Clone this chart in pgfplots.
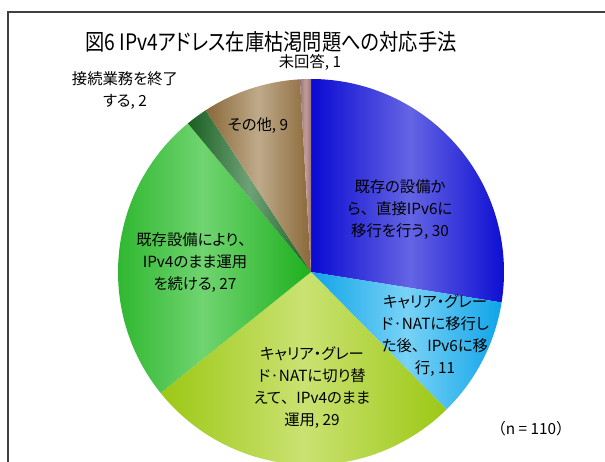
\documentclass[border=0pt]{standalone}
\usepackage{pgfplots}
\pgfplotsset{compat=1.18}
\usepackage{pgfplotstable}
\usepackage{fontspec}
\setmainfont{Noto Sans CJK JP}[RawFeature=+palt]
\newfontfamily\fw{Noto Sans CJK JP}
\newcommand\ten{{\fw 、}}

\pgfplotstableread{
value
30
11
29
27
2
9
1
}\piedata

\definecolor{dk0}{HTML}{0A0AD2}\definecolor{lt0}{HTML}{6464E4}
\definecolor{dk1}{HTML}{10A4E8}\definecolor{lt1}{HTML}{78D2F6}
\definecolor{dk2}{HTML}{9CC814}\definecolor{lt2}{HTML}{CAE272}
\definecolor{dk3}{HTML}{1EB01E}\definecolor{lt3}{HTML}{70D470}
\definecolor{dk4}{HTML}{1A5E22}\definecolor{lt4}{HTML}{6EA276}
\definecolor{dk5}{HTML}{8A6838}\definecolor{lt5}{HTML}{BEAA8A}
\definecolor{dk6}{HTML}{9A7474}\definecolor{lt6}{HTML}{C49C9C}

\gdef\total{0}%
\pgfplotstableforeachcolumnelement{value}\of\piedata\as\v{%
  \pgfmathsetmacro\tmp{\total+\v}\xdef\total{\tmp}}%
\gdef\cum{0}%
\pgfplotstableforeachcolumnelement{value}\of\piedata\as\v{%
  \pgfmathsetmacro\sa{90-\cum/\total*360}%
  \pgfmathsetmacro\ea{90-(\cum+\v)/\total*360}%
  \expandafter\xdef\csname sa\pgfplotstablerow\endcsname{\sa}%
  \expandafter\xdef\csname ea\pgfplotstablerow\endcsname{\ea}%
  \pgfmathsetmacro\tmp{\cum+\v}\xdef\cum{\tmp}}%

\begin{document}%
\begin{tikzpicture}[x=0.75pt,y=0.75pt]
\draw[line width=1.2pt,color=black!75] (8,-20) -- (8,449) -- (640,449);
\begin{axis}[x=0.75pt,y=0.75pt,xmin=0,xmax=605,ymin=0,ymax=461,
  hide axis,clip=false,at={(0,0)},anchor=origin,scale only axis]
\pgfplotsinvokeforeach{0,...,6}{
  \shade[left color=dk#1,right color=dk#1,middle color=lt#1]
    (axis cs:311,189) -- ++(\csname sa#1\endcsname:144.75pt)
    arc[start angle=\csname sa#1\endcsname,end angle=\csname ea#1\endcsname,radius=144.75pt] -- cycle;
}
\node[font=\fontsize{17pt}{20pt}\selectfont,xscale=0.85] at (axis cs:271,419) {図6 IPv4アドレス在庫枯渇問題への対応手法};
\begin{scope}[every node/.style={font=\fontsize{11.5pt}{16.5pt}\selectfont,align=center,inner sep=0pt}]
\node at (axis cs:310,399) {未回答, 1};
\node at (axis cs:125,370) {接続業務を終了\\する, 2};
\node at (axis cs:258,335) {その他, 9};
\node at (axis cs:400,251) {既存の設備か\\ら\ten 直接IPv6に\\移行を行う, 30};
\node at (axis cs:435,125) {キャリア・グレー\\ド·NATに移行し\\た後\ten IPv6に移\\行, 11};
\node at (axis cs:312,73) {キャリア・グレー\\ド·NATに切り替\\えて\ten IPv4のまま\\運用, 29};
\node at (axis cs:195,198) {既存設備により\ten\\IPv4のまま運用\\を続ける, 27};
\node at (axis cs:531,32) {{\fw （}n = 110{\fw ）}};
\end{scope}
\end{axis}
\pgfresetboundingbox
\useasboundingbox (0,0) rectangle (605,461);
\end{tikzpicture}%
\end{document}
